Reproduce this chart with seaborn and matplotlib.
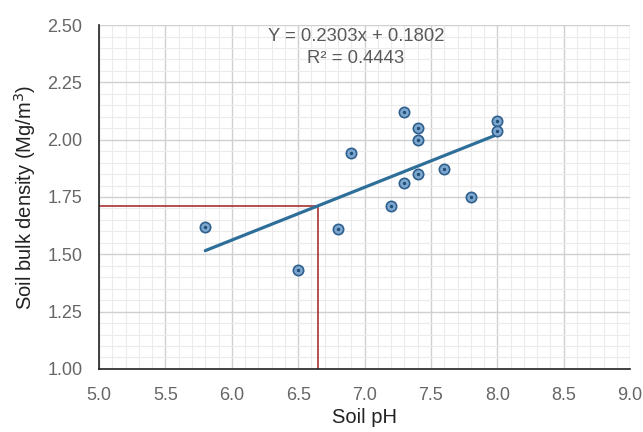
import matplotlib
matplotlib.use("Agg")
import matplotlib.pyplot as plt
import seaborn as sns
import pandas as pd
import numpy as np
from matplotlib.ticker import MultipleLocator, FormatStrFormatter

# data
soil_ph = [5.8, 6.5, 6.8, 6.9, 7.2, 7.3, 7.3, 7.4, 7.4, 7.4, 7.6, 7.8, 8.0, 8.0]
bulk_density = [1.62, 1.43, 1.61, 1.94, 1.71, 2.12, 1.81, 2.05, 2.00, 1.85, 1.87, 1.75, 2.08, 2.04]
slope = 0.2303
intercept = 0.1802
r_squared = 0.4443
marker_ph = 6.65
marker_density = 1.71

df = pd.DataFrame({"Soil pH": soil_ph, "density": bulk_density})

sns.set_theme(style="white")
plt.rcParams["font.family"] = ["Liberation Sans", "DejaVu Sans"]

fig = plt.figure(figsize=(6.43, 4.32), dpi=100)
ax = fig.add_axes([0.154, 0.146, 0.826, 0.796])

# grid
ax.xaxis.set_major_locator(MultipleLocator(0.5))
ax.xaxis.set_minor_locator(MultipleLocator(0.1))
ax.yaxis.set_major_locator(MultipleLocator(0.25))
ax.yaxis.set_minor_locator(MultipleLocator(0.05))
ax.grid(which="major", color="#d0d0d0", linewidth=1.0)
ax.grid(which="minor", color="#ebebeb", linewidth=0.8)
ax.set_axisbelow(True)

# trend line over data range
x_fit = np.array([min(soil_ph), max(soil_ph)])
sns.lineplot(x=x_fit, y=slope * x_fit + intercept, ax=ax, color="#2e6f9a",
             linewidth=2.3, zorder=3)

# red guide lines
ax.plot([5.0, marker_ph], [marker_density, marker_density], color="#a83232", linewidth=1.2, zorder=2)
ax.plot([marker_ph, marker_ph], [1.0, marker_density], color="#a83232", linewidth=1.2, zorder=2)

# points: ringed circle with a centre dot
sns.scatterplot(data=df, x="Soil pH", y="density", ax=ax, s=55, color="#7da7cf",
                edgecolor="#2f5f8c", linewidth=1.2, zorder=4)
sns.scatterplot(data=df, x="Soil pH", y="density", ax=ax, s=6, color="#1f4e79",
                linewidth=0, zorder=5)

ax.set_xlim(5.0, 9.0)
ax.set_ylim(1.0, 2.5)
ax.xaxis.set_major_formatter(FormatStrFormatter("%.1f"))
ax.yaxis.set_major_formatter(FormatStrFormatter("%.2f"))

for side in ["top", "right"]:
    ax.spines[side].set_visible(False)
for side in ["left", "bottom"]:
    ax.spines[side].set_color("#222222")
    ax.spines[side].set_linewidth(1.2)

ax.tick_params(axis="both", which="both", length=0, labelsize=13, labelcolor="#666666")
ax.tick_params(axis="x", pad=13)
ax.tick_params(axis="y", pad=12)
ax.set_xlabel("Soil pH", fontsize=14.5, color="#222222", labelpad=3)
ax.set_ylabel("Soil bulk density (Mg/m$^3$)", fontsize=14.5, color="#222222", labelpad=7)

ax.text(6.936, 2.452, f"Y = {slope:.4f}x + {intercept:.4f}", ha="center", va="center",
        fontsize=13.3, color="#595959")
ax.text(6.936, 2.356, f"R² = {r_squared:.4f}", ha="center", va="center",
        fontsize=13.3, color="#595959")

fig.savefig("out.png", dpi=100, facecolor="white")
